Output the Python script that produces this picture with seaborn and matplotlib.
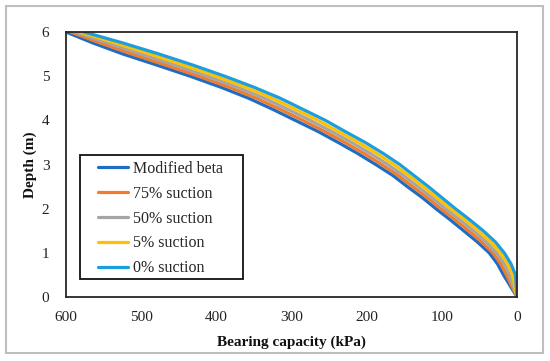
import pandas as pd
import matplotlib
matplotlib.use("Agg")
import matplotlib.pyplot as plt
import seaborn as sns
from matplotlib.patches import Rectangle

# depth (m) and bearing capacity (kPa)
depth = [0, 0.25, 0.5, 0.75, 1.0, 1.25, 1.5, 1.75, 2.0, 2.25, 2.5, 2.75, 3.0,
         3.25, 3.5, 3.75, 4.0, 4.25, 4.5, 4.75, 5.0, 5.25, 5.5, 5.75, 6.0]
modified_beta = [0, 9, 18, 26, 37, 53, 71, 89, 108, 126, 146, 165, 188,
                 212, 238, 265, 295, 325, 357, 394, 435, 479, 524, 564, 600]
suction_75 = [0, 7, 14, 21.5, 32, 47, 64.5, 82.5, 101.5, 119.5, 139, 158, 180,
              203.5, 229, 256, 285, 315, 346.5, 383, 423.5, 467, 512, 554, 594]
suction_50 = [0, 5, 10, 17, 27, 41, 58, 76, 95, 113, 132, 151, 172,
              195, 220, 247, 275, 305, 336, 372, 412, 455, 500, 544, 588]
suction_5 = [0, 3, 6, 12.5, 22, 35, 51.5, 69.5, 88.5, 106.5, 125, 144, 164,
             186.5, 211, 238, 265, 295, 325.5, 361, 400.5, 443, 488, 534, 582]
suction_0 = [0, 1, 2, 8, 17, 29, 45, 63, 82, 100, 118, 137, 156,
             178, 202, 229, 255, 285, 315, 350, 389, 431, 476, 524, 576]

series_names = ["Modified beta", "75% suction", "50% suction", "5% suction", "0% suction"]
series_values = [modified_beta, suction_75, suction_50, suction_5, suction_0]
colors = ["#1F6CC4", "#F07C2C", "#A5A5A5", "#FFC000", "#1C9DDD"]

frames = []
for name, vals in zip(series_names, series_values):
    frames.append(pd.DataFrame({"Depth": depth, "Capacity": vals, "Series": name}))
df = pd.concat(frames, ignore_index=True)

sns.set_theme(style="white")
plt.rcParams["font.family"] = ["Liberation Serif", "DejaVu Serif"]

fig = plt.figure(figsize=(5.5, 3.61), dpi=100)
ax = fig.add_axes([66 / 550, 1 - 297 / 361, 451 / 550, 265 / 361])

sns.lineplot(data=df, x="Capacity", y="Depth", hue="Series", hue_order=series_names,
             palette=dict(zip(series_names, colors)), sort=False, estimator=None,
             linewidth=2.3, ax=ax)

ax.set_xlim(600, 0)
ax.set_ylim(0, 6)
ax.set_xticks([600, 500, 400, 300, 200, 100, 0])
ax.set_yticks([0, 1, 2, 3, 4, 5, 6])
ax.tick_params(axis="both", length=0, labelsize=11, colors="#222222")
ax.tick_params(axis="x", pad=10)
ax.tick_params(axis="y", pad=12)
for sp in ax.spines.values():
    sp.set_color("#262626")
    sp.set_linewidth(1.3)

ax.set_xlabel("Bearing capacity (kPa)", fontsize=11, fontweight="bold", color="#111111")
ax.set_ylabel("Depth (m)", fontsize=11, fontweight="bold", color="#111111")
ax.xaxis.set_label_coords(0.5, -0.147)
ax.yaxis.set_label_coords(-0.064, 0.5)

handles, labels = ax.get_legend_handles_labels()
ax.legend(handles, labels, loc="upper left", bbox_to_anchor=(24 / 451, 144 / 265),
          frameon=False, borderpad=0, fontsize=11.5, handlelength=1.9,
          handletextpad=0.3, labelspacing=0.55)
ax.add_patch(Rectangle((14 / 451, 18 / 265), 163 / 451, 124 / 265, transform=ax.transAxes,
                       fill=False, edgecolor="#111111", linewidth=1.3, zorder=5,
                       clip_on=False))

fig.patches.append(Rectangle((6 / 550, 8 / 361), 537 / 550, 347 / 361,
                             transform=fig.transFigure, fill=False,
                             edgecolor="#BFBFBF", linewidth=1.5))

fig.savefig("out.png", dpi=100)
